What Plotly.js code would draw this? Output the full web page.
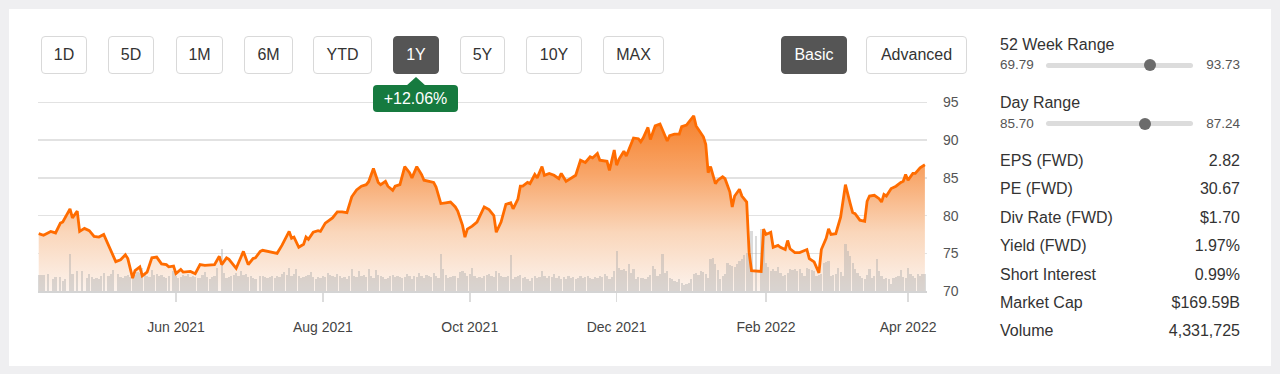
<!DOCTYPE html>
<html>
<head>
<meta charset="utf-8">
<script src="https://cdn.plot.ly/plotly-3.0.1.min.js"></script>
<style>
  html, body { margin:0; padding:0; width:1280px; height:374px; overflow:hidden; background:#efeff1; font-family: Arial, "Liberation Sans", sans-serif; }
  #card { position:absolute; left:9px; top:9px; width:1262px; height:357px; background:#fff; }
  #chart { position:absolute; left:0; top:0; width:1280px; height:374px; }
  .btn { position:absolute; top:36px; height:38px; box-sizing:border-box; border:1.5px solid #d9d9d9; border-radius:4px; background:#fff; color:#333; font-size:16px; line-height:35px; text-align:center; }
  .btn.on { background:#555; border-color:#555; color:#fff; }
  #badge { position:absolute; left:373px; top:85px; width:85px; height:27px; background:#167a3f; border-radius:4px; color:#fff; font-size:16px; line-height:27px; text-align:center; }
  #tip { position:absolute; left:406px; top:77px; width:0; height:0; border-left:10px solid transparent; border-right:10px solid transparent; border-bottom:9px solid #167a3f; }
  .ptxt { position:absolute; color:#333; white-space:nowrap; }
  .rl { font-size:16px; }
  .rv { font-size:13.5px; color:#555; }
  .track { position:absolute; left:1046px; width:147px; height:5px; border-radius:3px; background:#dcdcdc; }
  .knob { position:absolute; width:12px; height:12px; border-radius:50%; background:#6b6b6b; }
</style>
</head>
<body>
<div id="card"></div>
<div id="chart"></div>
<div id="ui"></div>
<script>
// ---------------- DATA ----------------
const PRICE_DATES = [
'2021-04-05','2021-04-07','2021-04-10','2021-04-12','2021-04-14','2021-04-15','2021-04-18','2021-04-19','2021-04-21','2021-04-22',
'2021-04-24','2021-04-26','2021-04-28','2021-04-30','2021-05-02','2021-05-04','2021-05-07','2021-05-09','2021-05-11','2021-05-12',
'2021-05-14','2021-05-15','2021-05-17','2021-05-18','2021-05-20','2021-05-22','2021-05-24','2021-05-26','2021-05-28','2021-05-29',
'2021-05-31','2021-06-01','2021-06-03','2021-06-04','2021-06-07','2021-06-09','2021-06-11','2021-06-13','2021-06-16','2021-06-17',
'2021-06-19','2021-06-20','2021-06-22','2021-06-23','2021-06-26','2021-06-29','2021-07-01','2021-07-03','2021-07-04','2021-07-06',
'2021-07-07','2021-07-09','2021-07-11','2021-07-13','2021-07-15','2021-07-18','2021-07-19','2021-07-20','2021-07-22','2021-07-24',
'2021-07-25','2021-07-26','2021-07-28','2021-07-30','2021-07-31','2021-08-02','2021-08-05','2021-08-07','2021-08-09','2021-08-11',
'2021-08-13','2021-08-15','2021-08-17','2021-08-19','2021-08-20','2021-08-22','2021-08-24','2021-08-25','2021-08-27','2021-08-28',
'2021-08-30','2021-08-31','2021-09-02','2021-09-04','2021-09-06','2021-09-07','2021-09-09','2021-09-11','2021-09-12','2021-09-14',
'2021-09-16','2021-09-17','2021-09-19','2021-09-21','2021-09-23','2021-09-25','2021-09-26','2021-09-28','2021-09-29','2021-09-30',
'2021-10-02','2021-10-04','2021-10-06','2021-10-07','2021-10-09','2021-10-11','2021-10-12','2021-10-14','2021-10-16','2021-10-18',
'2021-10-19','2021-10-21','2021-10-22','2021-10-23','2021-10-25','2021-10-26','2021-10-28','2021-10-29','2021-10-31','2021-11-01',
'2021-11-03','2021-11-05','2021-11-07','2021-11-08','2021-11-10','2021-11-12','2021-11-14','2021-11-16','2021-11-18','2021-11-20',
'2021-11-21','2021-11-23','2021-11-24','2021-11-27','2021-11-28','2021-11-30','2021-12-01','2021-12-02','2021-12-04','2021-12-05',
'2021-12-08','2021-12-10','2021-12-11','2021-12-12','2021-12-14','2021-12-15','2021-12-17','2021-12-19','2021-12-22','2021-12-23',
'2021-12-25','2021-12-27','2021-12-28','2021-12-30','2022-01-02','2022-01-03','2022-01-06','2022-01-07','2022-01-08','2022-01-09',
'2022-01-11','2022-01-12','2022-01-14','2022-01-15','2022-01-17','2022-01-18','2022-01-19','2022-01-21','2022-01-22','2022-01-24',
'2022-01-25','2022-01-26','2022-01-28','2022-01-30','2022-01-31','2022-02-01','2022-02-03','2022-02-04','2022-02-06','2022-02-07',
'2022-02-09','2022-02-10','2022-02-11','2022-02-13','2022-02-15','2022-02-18','2022-02-19','2022-02-21','2022-02-23','2022-02-24',
'2022-02-26','2022-02-27','2022-02-28','2022-03-02','2022-03-04','2022-03-06','2022-03-08','2022-03-09','2022-03-10','2022-03-12',
'2022-03-14','2022-03-15','2022-03-16','2022-03-18','2022-03-20','2022-03-21','2022-03-22','2022-03-23','2022-03-25','2022-03-27',
'2022-03-29','2022-03-30','2022-03-31','2022-04-01','2022-04-03','2022-04-04','2022-04-06','2022-04-07','2022-04-08'
];
const PRICE = [
77.6,77.4,77.9,77.7,79.0,79.15,80.9,79.7,80.6,77.9,
78.3,78.0,77.25,77.15,77.5,76.05,73.9,74.15,74.8,74.3,
71.7,72.7,73.2,72.0,72.5,74.4,74.5,73.6,73.5,73.2,
73.3,72.3,72.85,72.5,72.6,72.3,73.5,73.4,73.5,73.5,
74.6,73.5,74.4,74.2,73.0,75.25,73.5,74.3,74.4,75.25,
75.4,75.25,75.1,75.0,76.05,77.9,77.0,77.15,75.8,76.2,
77.15,76.85,77.8,78.0,77.9,79.0,79.7,80.5,80.5,80.4,
82.5,83.4,83.9,84.1,84.5,86.25,84.4,84.1,84.55,83.9,
83.35,83.9,84.1,86.5,85.7,85.0,86.5,85.45,84.7,84.55,
84.4,83.8,81.6,81.7,81.8,81.15,80.6,78.7,77.15,78.2,
78.6,79.15,80.5,81.15,80.8,80.0,77.8,79.15,81.5,81.7,
80.9,82.2,83.9,83.9,84.4,84.25,85.45,85.0,86.5,85.35,
85.6,85.35,84.9,85.6,84.55,85.0,85.35,87.35,87.05,87.8,
87.65,88.25,87.35,87.2,86.0,88.7,86.7,87.5,88.55,87.9,
90.3,90.2,89.8,90.3,91.7,90.1,91.9,92.15,89.9,90.6,
90.8,90.8,91.8,92.0,93.25,91.9,90.45,89.45,85.7,86.5,
84.25,84.7,85.15,84.9,83.15,81.15,82.6,83.5,82.6,81.8,
75.15,72.7,72.6,72.6,78.2,77.5,77.8,75.8,76.05,75.8,
75.5,76.7,75.6,75.1,75.1,75.5,74.3,73.85,72.4,75.5,
77.0,78.25,77.5,77.6,79.8,84.1,81.6,80.4,80.25,79.4,
79.25,81.9,82.6,82.7,82.25,81.8,82.8,82.6,83.6,83.9,
84.4,84.55,85.45,84.7,85.6,85.6,86.35,86.5,86.74
];

// Volume (millions of shares)
const VOLUME_DATES = [
'2021-04-05','2021-04-06','2021-04-07','2021-04-09','2021-04-11','2021-04-12','2021-04-14','2021-04-15','2021-04-16','2021-04-18',
'2021-04-19','2021-04-21','2021-04-23','2021-04-25','2021-04-26','2021-04-27','2021-04-28','2021-04-29','2021-04-30','2021-05-01',
'2021-05-02','2021-05-04','2021-05-05','2021-05-06','2021-05-08','2021-05-09','2021-05-10','2021-05-11','2021-05-12','2021-05-13',
'2021-05-14','2021-05-15','2021-05-16','2021-05-17','2021-05-18','2021-05-19','2021-05-20','2021-05-21','2021-05-22','2021-05-23',
'2021-05-24','2021-05-25','2021-05-26','2021-05-27','2021-05-28','2021-05-29','2021-05-31','2021-06-01','2021-06-02','2021-06-03',
'2021-06-04','2021-06-05','2021-06-06','2021-06-07','2021-06-08','2021-06-09','2021-06-10','2021-06-11','2021-06-12','2021-06-13',
'2021-06-14','2021-06-15','2021-06-16','2021-06-17','2021-06-18','2021-06-20','2021-06-21','2021-06-22','2021-06-23','2021-06-24',
'2021-06-25','2021-06-26','2021-06-27','2021-06-28','2021-06-29','2021-06-30','2021-07-01','2021-07-02','2021-07-03','2021-07-04',
'2021-07-06','2021-07-07','2021-07-08','2021-07-09','2021-07-10','2021-07-11','2021-07-12','2021-07-13','2021-07-14','2021-07-15',
'2021-07-16','2021-07-17','2021-07-18','2021-07-19','2021-07-20','2021-07-21','2021-07-22','2021-07-23','2021-07-24','2021-07-25',
'2021-07-26','2021-07-27','2021-07-28','2021-07-29','2021-07-30','2021-07-31','2021-08-01','2021-08-02','2021-08-03','2021-08-04',
'2021-08-05','2021-08-06','2021-08-07','2021-08-08','2021-08-09','2021-08-10','2021-08-11','2021-08-12','2021-08-13','2021-08-14',
'2021-08-15','2021-08-16','2021-08-17','2021-08-18','2021-08-19','2021-08-20','2021-08-21','2021-08-22','2021-08-23','2021-08-24',
'2021-08-25','2021-08-26','2021-08-27','2021-08-28','2021-08-29','2021-08-30','2021-08-31','2021-09-01','2021-09-02','2021-09-03',
'2021-09-04','2021-09-05','2021-09-06','2021-09-07','2021-09-08','2021-09-09','2021-09-10','2021-09-11','2021-09-12','2021-09-13',
'2021-09-14','2021-09-15','2021-09-16','2021-09-17','2021-09-18','2021-09-19','2021-09-20','2021-09-21','2021-09-22','2021-09-23',
'2021-09-24','2021-09-25','2021-09-26','2021-09-27','2021-09-28','2021-09-29','2021-09-30','2021-10-01','2021-10-02','2021-10-03',
'2021-10-04','2021-10-05','2021-10-06','2021-10-07','2021-10-08','2021-10-09','2021-10-10','2021-10-11','2021-10-12','2021-10-13',
'2021-10-14','2021-10-15','2021-10-16','2021-10-17','2021-10-18','2021-10-19','2021-10-20','2021-10-21','2021-10-22','2021-10-23',
'2021-10-24','2021-10-25','2021-10-26','2021-10-27','2021-10-28','2021-10-29','2021-10-30','2021-10-31','2021-11-01','2021-11-02',
'2021-11-03','2021-11-04','2021-11-05','2021-11-06','2021-11-07','2021-11-08','2021-11-09','2021-11-10','2021-11-11','2021-11-12',
'2021-11-13','2021-11-14','2021-11-15','2021-11-16','2021-11-17','2021-11-18','2021-11-19','2021-11-20','2021-11-21','2021-11-22',
'2021-11-23','2021-11-24','2021-11-25','2021-11-26','2021-11-27','2021-11-28','2021-11-29','2021-11-30','2021-12-01','2021-12-02',
'2021-12-03','2021-12-04','2021-12-05','2021-12-06','2021-12-07','2021-12-08','2021-12-09','2021-12-10','2021-12-11','2021-12-12',
'2021-12-13','2021-12-14','2021-12-15','2021-12-16','2021-12-17','2021-12-18','2021-12-19','2021-12-20','2021-12-21','2021-12-22',
'2021-12-23','2021-12-24','2021-12-25','2021-12-26','2021-12-27','2021-12-28','2021-12-29','2021-12-30','2021-12-31','2022-01-01',
'2022-01-02','2022-01-03','2022-01-04','2022-01-05','2022-01-06','2022-01-07','2022-01-08','2022-01-09','2022-01-10','2022-01-11',
'2022-01-12','2022-01-13','2022-01-14','2022-01-15','2022-01-16','2022-01-17','2022-01-18','2022-01-19','2022-01-20','2022-01-21',
'2022-01-22','2022-01-23','2022-01-24','2022-01-25','2022-01-26','2022-01-28','2022-01-30','2022-01-31','2022-02-01','2022-02-02',
'2022-02-03','2022-02-04','2022-02-05','2022-02-06','2022-02-07','2022-02-08','2022-02-09','2022-02-10','2022-02-11','2022-02-12',
'2022-02-13','2022-02-14','2022-02-15','2022-02-16','2022-02-17','2022-02-18','2022-02-19','2022-02-20','2022-02-21','2022-02-22',
'2022-02-23','2022-02-24','2022-02-25','2022-02-26','2022-02-27','2022-02-28','2022-03-01','2022-03-02','2022-03-03','2022-03-04',
'2022-03-05','2022-03-06','2022-03-07','2022-03-08','2022-03-09','2022-03-10','2022-03-11','2022-03-12','2022-03-13','2022-03-14',
'2022-03-15','2022-03-16','2022-03-17','2022-03-18','2022-03-19','2022-03-20','2022-03-21','2022-03-22','2022-03-23','2022-03-24',
'2022-03-25','2022-03-26','2022-03-27','2022-03-28','2022-03-29','2022-03-30','2022-03-31','2022-04-01','2022-04-02','2022-04-03',
'2022-04-04','2022-04-05','2022-04-06','2022-04-07','2022-04-08'
];
const VOLUME = [
4.8,4.8,4.8,5.1,3.6,4.2,4.2,3.0,3.6,11.1,
5.1,6.0,6.0,3.9,5.1,4.2,3.6,3.9,3.6,4.5,
5.4,4.5,5.1,6.3,5.1,4.2,3.9,4.5,4.8,4.2,
3.9,4.8,5.7,5.4,6.9,5.1,4.5,4.2,6.3,4.8,
5.1,4.5,4.8,4.2,3.9,4.5,6.0,4.5,3.9,4.2,
4.8,4.5,5.1,4.2,4.5,4.2,3.9,3.9,4.8,5.7,
4.2,3.6,4.2,4.5,6.9,12.6,5.4,3.9,4.2,4.5,
4.8,5.4,4.5,6.0,4.8,5.1,4.2,4.5,3.9,3.6,
4.5,4.5,4.2,3.9,4.2,4.5,3.9,4.5,4.2,5.1,
5.7,4.8,6.9,4.5,5.1,6.6,4.5,3.9,4.2,4.5,
4.8,5.7,4.2,3.6,4.2,3.9,4.5,4.2,5.4,4.8,
4.5,4.2,5.1,4.5,3.9,4.2,3.6,4.5,6.6,4.5,
4.2,6.0,4.5,4.8,4.2,6.6,4.5,3.9,6.3,4.8,
4.5,4.2,3.6,3.9,4.5,4.8,4.2,4.5,4.2,3.9,
4.2,5.1,4.5,3.6,4.5,4.2,5.4,4.5,3.9,4.8,
4.5,4.2,5.4,4.5,3.9,11.1,6.6,4.8,3.9,4.2,
4.5,4.5,3.9,5.7,6.0,5.4,4.5,5.1,6.9,4.5,
3.9,4.2,3.9,4.5,4.8,5.1,4.5,4.2,6.0,5.4,
4.5,4.2,4.2,4.5,10.8,3.6,4.2,4.5,4.8,3.9,
4.2,3.6,3.0,3.9,4.5,3.9,4.2,6.0,4.5,3.9,
4.5,4.2,5.1,3.9,4.5,3.6,4.2,3.6,4.5,3.9,
4.2,3.6,3.9,4.5,3.9,4.2,4.5,3.9,3.6,4.2,
3.9,4.5,4.2,5.1,4.5,3.6,4.2,6.0,12.0,6.9,
6.3,6.6,6.0,8.1,5.4,6.6,3.6,4.2,3.9,3.9,
3.6,4.2,4.8,7.5,6.6,4.5,5.1,11.1,5.4,6.0,
3.9,3.6,3.0,2.7,3.6,2.4,1.8,2.1,2.4,3.6,
5.1,5.4,4.8,6.0,5.7,5.1,3.9,9.6,9.9,8.1,
6.3,3.6,4.5,5.1,8.4,7.8,7.5,7.2,8.1,9.0,
9.6,10.8,11.4,12.6,18.0,16.5,18.6,16.5,8.4,7.2,
6.0,6.6,6.0,7.2,5.4,4.5,4.8,5.4,6.6,6.3,
6.6,6.0,6.6,5.4,4.5,6.9,6.6,6.3,6.0,4.5,
4.8,5.1,8.4,8.7,9.0,4.5,4.8,5.1,6.9,5.7,
4.5,14.1,12.0,10.5,8.4,6.6,5.4,4.5,3.9,3.6,
4.8,6.6,3.9,4.5,9.6,6.0,4.5,3.6,3.9,3.6,
2.1,3.9,4.2,4.5,6.3,4.2,3.9,6.9,5.1,4.5,
3.9,5.1,4.5,5.1,5.1
];

const PRICE_TICKS = [70, 75, 80, 85, 90, 95];
const TIME_BUTTONS = ['1D','5D','1M','6M','YTD','1Y','5Y','10Y','MAX'];
const ACTIVE_RANGE = '1Y';
const CHANGE_TEXT = '+12.06%';
const VIEW_BUTTONS = ['Basic','Advanced'];
const RANGE_52W = [69.79, 93.73];
const RANGE_DAY = [85.70, 87.24];
const STAT_LABELS = ['EPS (FWD)','PE (FWD)','Div Rate (FWD)','Yield (FWD)','Short Interest','Market Cap','Volume'];
const STAT_VALUES = ['2.82','30.67','$1.70','1.97%','0.99%','$169.59B','4,331,725'];

// ---------------- CHART ----------------
const dayMs = 86400000;
const traces = [
  { x: PRICE_DATES, y: PRICE, type:'scatter', mode:'lines', yaxis:'y',
    line:{width:0, color:'rgba(0,0,0,0)'}, fill:'tozeroy',
    fillgradient:{ type:'vertical', start:70, stop:96,
      colorscale:[[0,'rgb(252,243,237)'],[0.3,'rgb(250,214,186)'],[0.6,'rgb(248,165,104)'],[1,'rgb(245,116,22)']] },
    hoverinfo:'skip' },
  { x: VOLUME_DATES, y: VOLUME, type:'bar', yaxis:'y2', width: 0.92*dayMs,
    marker:{color:'rgba(170,170,170,0.42)', line:{width:0}}, hoverinfo:'skip' },
  { x: PRICE_DATES, y: PRICE, type:'scatter', mode:'lines', yaxis:'y3',
    line:{color:'#ff6c00', width:2.8, shape:'linear'}, hoverinfo:'skip' }
];

const layout = {
  width:1280, height:374,
  margin:{l:38, r:353, t:95, b:83, pad:0},
  paper_bgcolor:'rgba(0,0,0,0)', plot_bgcolor:'rgba(0,0,0,0)',
  showlegend:false, bargap:0,
  font:{family:'Arial, "Liberation Sans", sans-serif', color:'#444'},
  xaxis:{ type:'date', range:['2021-04-04 17:00','2022-04-08 21:00'],
    tick0:'2021-06-01', dtick:'M2', tickformat:'%b %Y',
    ticks:'outside', ticklen:9, tickwidth:1.5, tickcolor:'#dcdcdc',
    showgrid:false, zeroline:false, showline:true, linecolor:'#d4d4d4', linewidth:2,
    tickfont:{size:14, color:'#444'}, ticklabelstandoff:13, fixedrange:true },
  yaxis:{ range:[70,96], side:'right', tickvals:PRICE_TICKS,
    showgrid:true, gridcolor:'#e2e2e2', gridwidth:1.6, zeroline:false, showline:false,
    ticks:'', tickfont:{size:14, color:'#555'}, ticklabelstandoff:15, fixedrange:true },
  yaxis2:{ overlaying:'y', range:[0,58.8], visible:false, showgrid:false, fixedrange:true },
  yaxis3:{ overlaying:'y', range:[70,96], visible:false, showgrid:false, fixedrange:true }
};

Plotly.newPlot('chart', traces, layout, {displayModeBar:false, staticPlot:true});

// ---------------- HTML UI ----------------
const ui = document.getElementById('ui');
const btnGeom = [[41,46],[108,46],[176,47],[244,49],[313,59],[393,46],[460,45],[526,56],[603,61]];
TIME_BUTTONS.forEach((t,i)=>{
  const d = document.createElement('div');
  d.className = 'btn' + (t===ACTIVE_RANGE ? ' on' : '');
  d.style.left = btnGeom[i][0]+'px'; d.style.width = btnGeom[i][1]+'px';
  d.textContent = t; ui.appendChild(d);
});
const viewGeom = [[781,66],[866,101]];
VIEW_BUTTONS.forEach((t,i)=>{
  const d = document.createElement('div');
  d.className = 'btn' + (i===0 ? ' on' : '');
  d.style.left = viewGeom[i][0]+'px'; d.style.width = viewGeom[i][1]+'px';
  d.textContent = t; ui.appendChild(d);
});
const tip = document.createElement('div'); tip.id='tip'; ui.appendChild(tip);
const badge = document.createElement('div'); badge.id='badge'; badge.textContent = CHANGE_TEXT; ui.appendChild(badge);

function txt(text, cls, left, cy, right){
  const d = document.createElement('div');
  d.className = 'ptxt ' + cls; d.textContent = text;
  d.style.top = (cy - 10) + 'px'; d.style.height='20px'; d.style.lineHeight='20px';
  if (right) { d.style.right = (1280 - left) + 'px'; } else { d.style.left = left + 'px'; }
  ui.appendChild(d);
}
const lastPrice = PRICE[PRICE.length-1];
function rangeBlock(title, rng, titleY, rowY){
  txt(title, 'rl', 1000, titleY);
  txt(rng[0].toFixed(2), 'rv', 1000, rowY);
  txt(rng[1].toFixed(2), 'rv', 1240, rowY, true);
  const tr = document.createElement('div'); tr.className='track'; tr.style.top=(rowY-2.5)+'px'; ui.appendChild(tr);
  const f = Math.max(0, Math.min(1, (lastPrice - rng[0])/(rng[1]-rng[0])));
  const k = document.createElement('div'); k.className='knob';
  k.style.left = (1046 + f*147 - 6)+'px'; k.style.top=(rowY-6)+'px'; ui.appendChild(k);
}
rangeBlock('52 Week Range', RANGE_52W, 45, 65);
rangeBlock('Day Range', RANGE_DAY, 103, 123.5);
STAT_LABELS.forEach((l,i)=>{
  const cy = 161 + i*28.4;
  txt(l, 'rl', 1000, cy);
  txt(STAT_VALUES[i], 'rl', 1240, cy, true);
});
</script>
</body>
</html>
